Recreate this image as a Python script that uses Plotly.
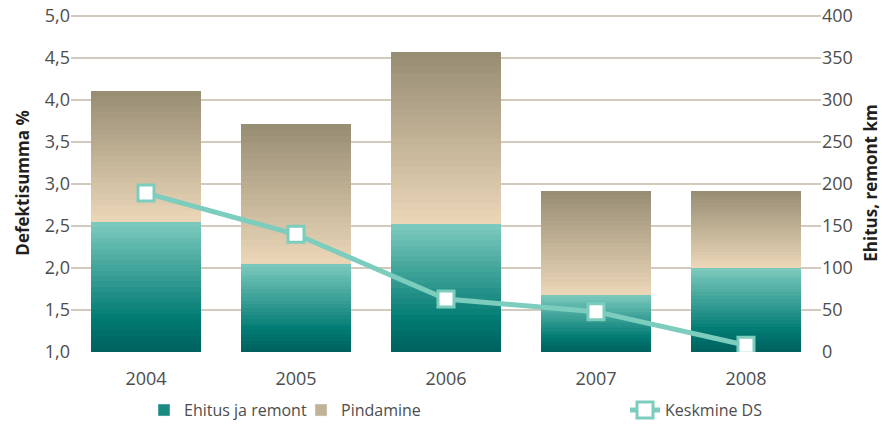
import plotly.graph_objects as go

years = ["2004", "2005", "2006", "2007", "2008"]
ehitus_km = [155, 105, 152, 68, 100]        # Ehitus ja remont (right axis, km)
pindamine_km = [156, 166, 205, 124, 92]     # Pindamine (stacked on top, km)
keskmine_ds = [2.89, 2.40, 1.63, 1.48, 1.08]  # Keskmine DS (left axis, %)

FONT = "Open Sans"
N_SEG = 24


def hex_to_rgb(h):
    h = h.lstrip("#")
    return tuple(int(h[i:i + 2], 16) for i in (0, 2, 4))


def blend(stops, t):
    for (t0, c0), (t1, c1) in zip(stops, stops[1:]):
        if t0 <= t <= t1:
            f = (t - t0) / (t1 - t0) if t1 > t0 else 0
            a, b = hex_to_rgb(c0), hex_to_rgb(c1)
            return "rgb(%d,%d,%d)" % tuple(round(x + (y - x) * f) for x, y in zip(a, b))
    return stops[-1][1]


teal_stops = [(0.0, "#00605c"), (0.25, "#007a73"), (1.0, "#7ecbbe")]
beige_stops = [(0.0, "#ecd7b8"), (1.0, "#968c73")]

fig = go.Figure()


def add_gradient_bars(values, stops, name, legend, legend_t):
    for k in range(N_SEG):
        t = (k + 0.5) / N_SEG
        fig.add_trace(go.Bar(
            x=years, y=[v / N_SEG for v in values],
            marker=dict(color=blend(stops, t), line=dict(width=0)),
            name=name, legendgroup=name, legend=legend,
            showlegend=False, hoverinfo="skip", yaxis="y",
        ))
    # legend-only swatch
    fig.add_trace(go.Bar(
        x=[None], y=[None], name=name, legend=legend,
        marker=dict(color=blend(stops, legend_t)), showlegend=True,
    ))


add_gradient_bars(ehitus_km, teal_stops, "Ehitus ja remont", "legend", 0.4)
add_gradient_bars(pindamine_km, beige_stops, "Pindamine", "legend2", 0.5)

fig.add_trace(go.Scatter(
    x=years, y=keskmine_ds, name="Keskmine DS", yaxis="y2", legend="legend3",
    mode="lines+markers",
    line=dict(color="#7ccdbd", width=5),
    marker=dict(symbol="square", size=16, color="white",
                line=dict(color="#7ccdbd", width=3)),
))

legend_common = dict(orientation="h", y=-0.172, yanchor="middle", xanchor="left",
                     font=dict(family=FONT, size=16, color="#4d4d4d"),
                     bgcolor="rgba(0,0,0,0)")

# ranges run a touch past the top tick so its gridline is not clipped at the edge
fig.update_layout(
    width=888, height=425,
    margin=dict(l=71, r=67, t=14, b=73, autoexpand=False),
    paper_bgcolor="white", plot_bgcolor="white",
    barmode="stack", bargap=0.273,
    separators=", ",
    font=dict(family=FONT, color="#4d4d4d"),
    xaxis=dict(type="category", showgrid=False, showline=False, ticks="",
               automargin=False, ticklabelstandoff=14,
               tickfont=dict(size=18, color="#4d4d4d")),
    yaxis=dict(side="right", range=[0, 402], tick0=0, dtick=50, showgrid=True,
               gridcolor="#d2cbbd", gridwidth=2, zeroline=False, automargin=False,
               tickfont=dict(size=18, color="#4d4d4d"),
               title=dict(text="<b>Ehitus, remont km</b>", standoff=13,
                          font=dict(size=17, color="#231f20"))),
    yaxis2=dict(side="left", overlaying="y", range=[1, 5.02], tick0=1, dtick=0.5,
                tickformat=".1f", showgrid=False, zeroline=False, automargin=False,
                tickfont=dict(size=18, color="#4d4d4d"),
                title=dict(text="<b>Defektisumma %</b>", standoff=10,
                           font=dict(size=17, color="#231f20"))),
    legend=dict(x=(144 - 71) / 750, **legend_common),
    legend2=dict(x=(301 - 71) / 750, **legend_common),
    legend3=dict(x=(625 - 71) / 750, **legend_common),
)

# drop the default body margin so the figure sits at the page's top-left corner
fig.write_html("out.html", config={"displayModeBar": False},
               post_script="document.body.style.margin='0';")
